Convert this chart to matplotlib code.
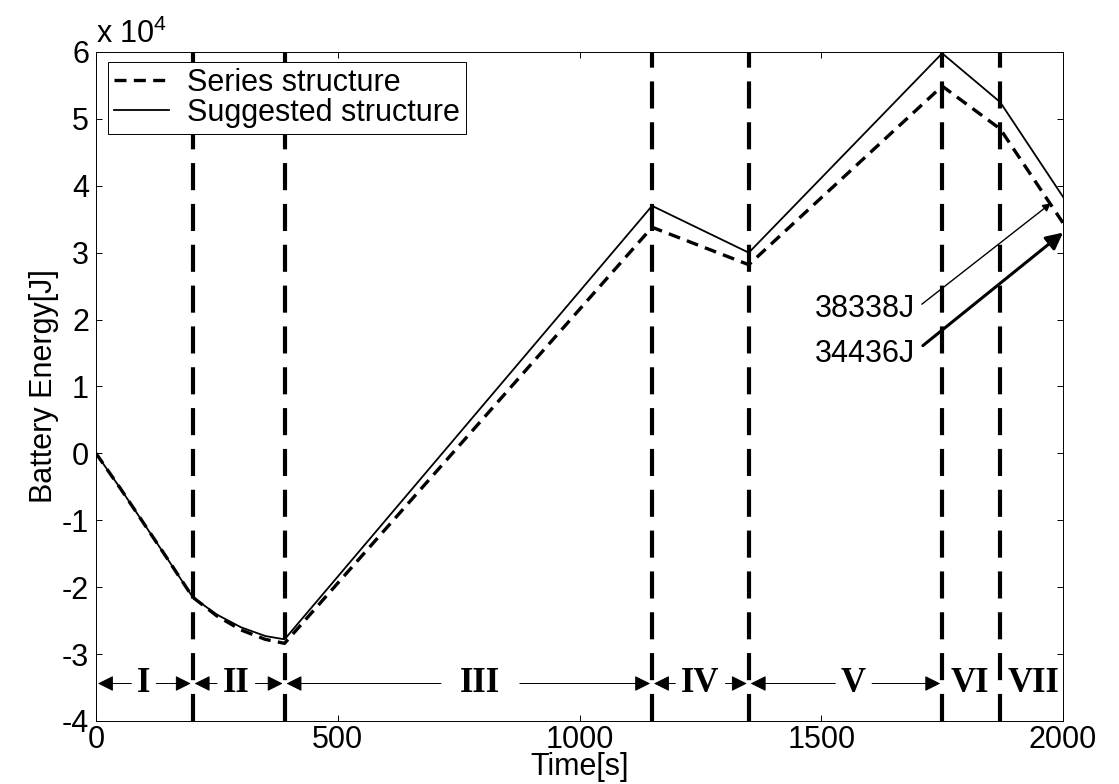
import matplotlib
matplotlib.use("Agg")
import matplotlib.pyplot as plt

plt.rcParams["font.family"] = ["Liberation Sans", "DejaVu Sans"]
plt.rcParams["mathtext.default"] = "regular"
plt.rcParams["axes.unicode_minus"] = False

# battery energy [J]
time_s = [0, 50, 100, 150, 200, 250, 300, 350, 390, 1150, 1350, 1750, 1870, 2000]
series_energy = [0, -5200, -10600, -16000, -21500, -24300, -26400, -27800, -28400,
                 33800, 28200, 54900, 48500, 34436]
suggested_energy = [0, -5200, -10600, -16000, -21500, -24100, -26000, -27300, -27800,
                    37000, 30000, 59800, 52500, 38338]

# phase boundaries and labels
boundaries = [200, 390, 1150, 1350, 1750, 1870]
phase_edges = [0, 200, 390, 1150, 1350, 1750, 1870, 2000]
phase_names = ["I", "II", "III", "IV", "V", "VI", "VII"]
phase_label_x = [99, 290, 795, 1250, 1567, 1808, 1940]

scale = 1e4
FS = 22

fig = plt.figure(figsize=(11.19, 7.84), dpi=100)
ax = fig.add_axes([0.0858, 0.0804, 0.8642, 0.8533])

ax.plot(time_s, [e / scale for e in series_energy], color="black", lw=2.4,
        dashes=(3.6, 2.2), label="Series structure")
ax.plot(time_s, [e / scale for e in suggested_energy], color="black", lw=1.3,
        label="Suggested structure")

for b in boundaries:
    ax.axvline(b, color="black", lw=3, dashes=(6.5, 3.3))

ax.set_xlim(0, 2000)
ax.set_ylim(-4, 6)
ax.set_xticks([0, 500, 1000, 1500, 2000])
ax.set_yticks(range(-4, 7))
ax.tick_params(direction="in", length=4, labelsize=FS, top=True, right=True,
               width=0.7)
ax.tick_params(axis="x", pad=3)
ax.tick_params(axis="y", pad=5)
for s in ax.spines.values():
    s.set_linewidth(0.7)

ax.set_xlabel("Time[s]", fontsize=FS, labelpad=-2)
ax.set_ylabel("Battery Energy[J]", fontsize=FS, labelpad=2)
ax.text(0.0, 1.003, r"x 10$^{4}$", transform=ax.transAxes, fontsize=FS,
        ha="left", va="bottom")

# phase labels, arrows drawn from the text edges to the boundaries
y_lab = -3.44
labels = []
for name, xc in zip(phase_names, phase_label_x):
    labels.append(ax.text(xc, y_lab, name, fontsize=25, fontweight="bold",
                          family=["Liberation Serif"], ha="center", va="center"))

fig.canvas.draw()
renderer = fig.canvas.get_renderer()
inv = ax.transData.inverted()
arrow_kw = dict(arrowstyle="-|>", color="black", lw=0.7, mutation_scale=24,
                shrinkA=0, shrinkB=0)
for t, name, x0, x1 in zip(labels, phase_names, phase_edges[:-1], phase_edges[1:]):
    if name in ("VI", "VII"):
        continue
    bb = t.get_window_extent(renderer)
    left = inv.transform((bb.x0, 0))[0]
    right = inv.transform((bb.x1, 0))[0]
    gap = 40 if name == "III" else 12
    ax.annotate("", xy=(x0 + 4, y_lab), xytext=(left - gap, y_lab), arrowprops=arrow_kw)
    ax.annotate("", xy=(x1 - 4, y_lab), xytext=(right + gap, y_lab), arrowprops=arrow_kw)

# final energy annotations
ax.annotate("", xy=(1975, 3.74), xytext=(1708, 2.23),
            arrowprops=dict(arrowstyle="-|>", color="black", lw=1.0,
                            mutation_scale=12, shrinkA=0, shrinkB=0))
ax.annotate("", xy=(2000, 3.3), xytext=(1710, 1.61),
            arrowprops=dict(arrowstyle="-|>", color="black", lw=2.2,
                            mutation_scale=25, shrinkA=0, shrinkB=0))
ax.text(1693, 2.16, "38338J", fontsize=FS, ha="right", va="center")
ax.text(1695, 1.49, "34436J", fontsize=FS, ha="right", va="center")

leg = ax.legend(loc="upper left", bbox_to_anchor=(0.0124, 0.985), borderaxespad=0,
                fontsize=FS, fancybox=False, framealpha=1, edgecolor="black",
                handlelength=1.8, handletextpad=0.6, labelspacing=0.0, borderpad=0.2)
leg.get_frame().set_linewidth(0.7)

fig.savefig("out.png", dpi=100)
